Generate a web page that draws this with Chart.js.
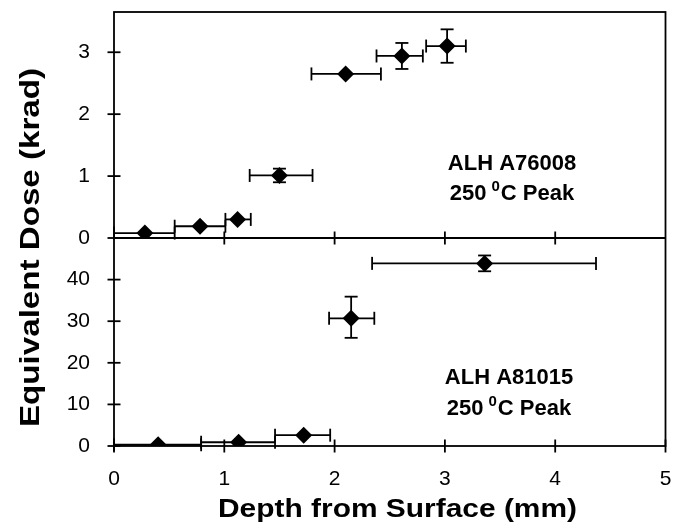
<!DOCTYPE html>
<html><head><meta charset="utf-8">
<script src="https://cdn.jsdelivr.net/npm/chart.js@4.4.1/dist/chart.umd.min.js"></script>
<style>html,body{margin:0;padding:0;background:#fff}#wrap{width:674px;height:529px}</style>
</head><body><div id="wrap"><canvas id="c" width="674" height="529"></canvas></div>
<script>
// ---- data ----
const xTicks = [0, 1, 2, 3, 4, 5];
const topTicks = [0, 1, 2, 3];
const botTicks = [0, 10, 20, 30, 40];

// ALH A76008 (top panel, krad)
const topX     = [0.28, 0.78, 1.12, 1.50, 2.10, 2.61, 3.02];
const topY     = [0.08, 0.19, 0.30, 1.01, 2.65, 2.94, 3.10];
const topXLow  = [0.00, 0.55, 1.01, 1.23, 1.79, 2.38, 2.83];
const topXHigh = [0.55, 1.01, 1.24, 1.80, 2.42, 2.80, 3.19];
const topYLow  = [null, null, null, 0.90, null, 2.73, 2.83];
const topYHigh = [null, null, null, 1.12, null, 3.15, 3.37];

// ALH A81015 (bottom panel, krad)
const botX     = [0.40, 1.13, 1.72, 2.15, 3.36];
const botY     = [0.3, 0.9, 2.6, 30.7, 43.9];
const botXLow  = [0.00, 0.79, 1.46, 1.95, 2.34];
const botXHigh = [0.79, 1.46, 1.96, 2.36, 4.37];
const botYLow  = [null, null, null, 26.0, 42.0];
const botYHigh = [null, null, null, 35.9, 45.8];

const xTitle = 'Depth from Surface (mm)';
const yTitle = 'Equivalent Dose (krad)';
const topLabel = ['ALH A76008', '250', '0', 'C Peak'];
const botLabel = ['ALH A81015', '250', '0', 'C Peak'];

const FONT = '"Liberation Sans", Arial, Helvetica, sans-serif';

const series = [
  {yid: 'yTop', X: topX, Y: topY, XL: topXLow, XH: topXHigh, YL: topYLow, YH: topYHigh},
  {yid: 'yBot', X: botX, Y: botY, XL: botXLow, XH: botXHigh, YL: botYLow, YH: botYHigh}
];

function line(ctx, x1, y1, x2, y2) { ctx.beginPath(); ctx.moveTo(x1, y1); ctx.lineTo(x2, y2); ctx.stroke(); }

function drawLabel(ctx, lab, cx, y1, y2) {
  ctx.fillStyle = '#000';
  ctx.textBaseline = 'middle';
  ctx.textAlign = 'center';
  ctx.font = 'bold 22px ' + FONT;
  ctx.fillText(lab[0], cx, y1);
  const big = 'bold 22px ' + FONT, small = 'bold 15px ' + FONT;
  ctx.font = big; const w1 = ctx.measureText(lab[1]).width; const w3 = ctx.measureText(lab[3]).width;
  ctx.font = small; const w2 = ctx.measureText(lab[2]).width;
  const gap = 5;
  const total = w1 + gap + w2 + 1 + w3;
  let x = cx - total / 2;
  ctx.textAlign = 'left';
  ctx.font = big; ctx.fillText(lab[1], x, y2); x += w1 + gap;
  ctx.font = small; ctx.fillText(lab[2], x, y2 - 7); x += w2 + 1;
  ctx.font = big; ctx.fillText(lab[3], x, y2);
}

function stretchText(ctx, text, font, targetW) {
  ctx.font = font;
  const w = ctx.measureText(text).width;
  ctx.scale(targetW / w, 1);
  ctx.fillText(text, 0, 0);
}

const decor = {
  id: 'decor',
  beforeDatasetsDraw(chart) {
    const ctx = chart.ctx, xs = chart.scales.x;
    ctx.save();
    ctx.strokeStyle = '#000'; ctx.lineWidth = 1.8;
    const cap = 6.5;
    for (const s of series) {
      const ys = chart.scales[s.yid];
      s.X.forEach((xv, i) => {
        const py = ys.getPixelForValue(s.Y[i]);
        const px = xs.getPixelForValue(xv);
        const xl = xs.getPixelForValue(s.XL[i]), xh = xs.getPixelForValue(s.XH[i]);
        line(ctx, xl, py, xh, py);
        line(ctx, xl, py - cap, xl, py + cap);
        line(ctx, xh, py - cap, xh, py + cap);
        if (s.YL[i] != null) {
          const yl = ys.getPixelForValue(s.YL[i]), yh = ys.getPixelForValue(s.YH[i]);
          line(ctx, px, yl, px, yh);
          line(ctx, px - cap, yl, px + cap, yl);
          line(ctx, px - cap, yh, px + cap, yh);
        }
      });
    }
    ctx.restore();
  },
  afterDraw(chart) {
    const ctx = chart.ctx, ca = chart.chartArea, xs = chart.scales.x;
    const yt = chart.scales.yTop, yb = chart.scales.yBot;
    const mid = yt.getPixelForValue(0);
    ctx.save();
    ctx.strokeStyle = '#000'; ctx.lineWidth = 1.8;
    ctx.strokeRect(ca.left, ca.top, ca.right - ca.left, ca.bottom - ca.top);
    line(ctx, ca.left, mid, ca.right, mid);
    const t = 6.5;
    for (const v of xTicks) {
      const px = xs.getPixelForValue(v);
      line(ctx, px, ca.bottom - t, px, ca.bottom + t);
      if (v > 0 && v < 5) line(ctx, px, mid - t, px, mid + t);
    }
    for (const v of topTicks) { const py = yt.getPixelForValue(v); line(ctx, ca.left - t, py, ca.left + t, py); }
    for (const v of botTicks) { const py = yb.getPixelForValue(v); line(ctx, ca.left - t, py, ca.left + t, py); }

    drawLabel(ctx, topLabel, 512, 163.5, 194);
    drawLabel(ctx, botLabel, 509, 377.5, 409);

    ctx.fillStyle = '#000'; ctx.textAlign = 'center'; ctx.textBaseline = 'middle';
    ctx.save(); ctx.translate(397.5, 510); stretchText(ctx, xTitle, 'bold 26px ' + FONT, 359); ctx.restore();
    ctx.save(); ctx.translate(32, 247.5); ctx.rotate(-Math.PI / 2); stretchText(ctx, yTitle, 'bold 27px ' + FONT, 359); ctx.restore();
    ctx.restore();
  }
};

const tickFont = {family: FONT, size: 21};

new Chart(document.getElementById('c'), {
  type: 'scatter',
  data: {
    datasets: [
      {label: 'ALH A76008', yAxisID: 'yTop',
       data: topX.map((x, i) => ({x, y: topY[i]})),
       pointStyle: 'rectRot', pointRadius: 8.5, backgroundColor: '#000', borderColor: '#000', borderWidth: 0},
      {label: 'ALH A81015', yAxisID: 'yBot',
       data: botX.map((x, i) => ({x, y: botY[i]})),
       pointStyle: 'rectRot', pointRadius: 8.5, backgroundColor: '#000', borderColor: '#000', borderWidth: 0}
    ]
  },
  options: {
    responsive: false, devicePixelRatio: 1, animation: false,
    layout: {padding: {left: 0, right: 6, top: 12, bottom: 0}},
    plugins: {legend: {display: false}, tooltip: {enabled: false}},
    scales: {
      x: {type: 'linear', position: 'bottom', min: 0, max: 5,
          grid: {display: false}, border: {display: false},
          afterBuildTicks: s => { s.ticks = xTicks.map(v => ({value: v})); },
          afterFit: s => { s.height = 83; s.paddingLeft = 0; s.paddingRight = 0; },
          ticks: {font: tickFont, color: '#000', padding: 13, maxRotation: 0, autoSkip: false}},
      yTop: {type: 'linear', position: 'left', stack: 'v', stackWeight: 226, weight: 1, min: 0, max: 3.65,
          grid: {display: false}, border: {display: false},
          afterBuildTicks: s => { s.ticks = topTicks.map(v => ({value: v})); },
          afterFit: s => { s.width = 114; s.paddingTop = 0; s.paddingBottom = 0; },
          ticks: {font: tickFont, color: '#000', padding: 16, autoSkip: false}},
      yBot: {type: 'linear', position: 'left', stack: 'v', stackWeight: 208, weight: 0, min: 0, max: 50,
          grid: {display: false}, border: {display: false},
          afterBuildTicks: s => { s.ticks = botTicks.map(v => ({value: v})); },
          afterFit: s => { s.width = 114; s.paddingTop = 0; s.paddingBottom = 0; },
          ticks: {font: tickFont, color: '#000', padding: 16, autoSkip: false}}
    }
  },
  plugins: [decor]
});
</script></body></html>
